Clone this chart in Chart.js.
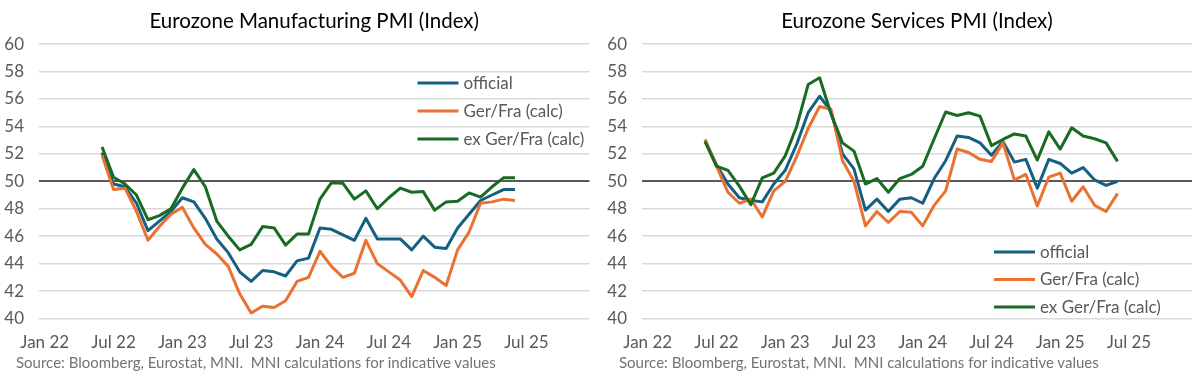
<!DOCTYPE html>
<html>
<head>
<meta charset="utf-8">
<script src="https://cdn.jsdelivr.net/npm/chart.js@4.4.1/dist/chart.umd.min.js"></script>
<style>
  body { margin: 0; background: #fff; }
  #wrap { position: relative; width: 1201px; height: 376px; background: #fff; overflow: hidden; }
  canvas { position: absolute; top: 0; }
  .src { position: absolute; top: 353px; font-family: Lato, sans-serif; font-size: 15px; color: #737373; white-space: pre; }
</style>
</head>
<body>
<div id="wrap">
  <canvas id="manuf" width="600" height="376" style="left:0"></canvas>
  <canvas id="serv" width="601" height="376" style="left:600px"></canvas>
  <div class="src" style="left:16px">Source: Bloomberg, Eurostat, MNI.  MNI calculations for indicative values</div>
  <div class="src" style="left:619px">Source: Bloomberg, Eurostat, MNI.  MNI calculations for indicative values</div>
</div>
<script>
// monthly readings, Jun 2022 - Jun 2025
var months = ['2022-06','2022-07','2022-08','2022-09','2022-10','2022-11','2022-12',
  '2023-01','2023-02','2023-03','2023-04','2023-05','2023-06','2023-07','2023-08','2023-09','2023-10','2023-11','2023-12',
  '2024-01','2024-02','2024-03','2024-04','2024-05','2024-06','2024-07','2024-08','2024-09','2024-10','2024-11','2024-12',
  '2025-01','2025-02','2025-03','2025-04','2025-05','2025-06'];

var tickMonths = ['2022-01','2022-07','2023-01','2023-07','2024-01','2024-07','2025-01','2025-07'];
var tickLabels = ['Jan 22','Jul 22','Jan 23','Jul 23','Jan 24','Jul 24','Jan 25','Jul 25'];

var seriesNames = ['official', 'Ger/Fra (calc)', 'ex Ger/Fra (calc)'];

var manufOfficial = [52.1, 49.8, 49.6, 48.4, 46.4, 47.1, 47.8,
  48.8, 48.5, 47.3, 45.8, 44.8, 43.4, 42.7, 43.5, 43.4, 43.1, 44.2, 44.4,
  46.6, 46.5, 46.1, 45.7, 47.3, 45.8, 45.8, 45.8, 45.0, 46.0, 45.2, 45.1,
  46.6, 47.6, 48.6, 49.0, 49.4, 49.4];
var manufGerFra = [51.9, 49.4, 49.5, 47.8, 45.7, 46.7, 47.6,
  48.1, 46.6, 45.4, 44.7, 43.8, 41.8, 40.4, 40.9, 40.8, 41.3, 42.7, 43.0,
  44.9, 43.8, 43.0, 43.3, 45.7, 44.0, 43.4, 42.8, 41.6, 43.5, 43.0, 42.4,
  45.0, 46.3, 48.4, 48.5, 48.7, 48.6];
var manufExGerFra = [52.5, 50.3, 49.8, 49.0, 47.2, 47.5, 48.0,
  49.5, 50.85, 49.6, 47.1, 46.0, 45.0, 45.4, 46.7, 46.6, 45.35, 46.15, 46.15,
  48.7, 49.9, 49.85, 48.7, 49.3, 48.0, 48.8, 49.5, 49.2, 49.25, 47.9, 48.5,
  48.55, 49.15, 48.85, 49.6, 50.25, 50.25];

var servOfficial = [53.0, 51.2, 49.8, 48.8, 48.6, 48.5, 49.8,
  50.8, 52.7, 55.0, 56.2, 55.1, 52.0, 50.9, 47.9, 48.7, 47.8, 48.7, 48.8,
  48.4, 50.2, 51.5, 53.3, 53.2, 52.8, 51.9, 52.9, 51.4, 51.6, 49.5, 51.6,
  51.3, 50.6, 51.0, 50.1, 49.7, 50.0];
var servGerFra = [53.05, 51.1, 49.2, 48.4, 48.7, 47.4, 49.3,
  50.0, 51.8, 53.85, 55.45, 55.25, 51.5, 50.0, 46.75, 47.8, 47.0, 47.8, 47.75,
  46.75, 48.25, 49.3, 52.35, 52.1, 51.6, 51.45, 52.8, 50.1, 50.5, 48.2, 50.3,
  50.6, 48.55, 49.6, 48.25, 47.8, 49.1];
var servExGerFra = [52.9, 51.1, 50.8, 49.65, 48.3, 50.25, 50.6,
  51.85, 54.0, 57.05, 57.55, 54.9, 52.8, 52.2, 49.8, 50.2, 49.2, 50.2, 50.5,
  51.1, 53.1, 55.05, 54.8, 55.0, 54.75, 52.6, 53.05, 53.45, 53.3, 51.55, 53.6,
  52.35, 53.9, 53.3, 53.1, 52.8, 51.45];

var colors = ['#156082', '#E97132', '#196B24'];

function monthIndex(s) {
  var p = s.split('-');
  return (Number(p[0]) - 2022) * 12 + (Number(p[1]) - 1);
}

function toPoints(values) {
  return values.map(function (v, i) { return { x: monthIndex(months[i]), y: v }; });
}

var tickPos = tickMonths.map(monthIndex);

// legend drawn inside the plot area
var insideLegend = {
  id: 'insideLegend',
  afterDraw: function (chart, args, opts) {
    var ctx = chart.ctx, area = chart.chartArea;
    ctx.save();
    ctx.font = '17px Lato';
    ctx.textBaseline = 'middle';
    ctx.textAlign = 'left';
    chart.data.datasets.forEach(function (ds, i) {
      var y = area.top + opts.top + i * opts.rowGap;
      var x0 = area.right - opts.right;
      ctx.strokeStyle = ds.borderColor;
      ctx.lineWidth = 3;
      ctx.beginPath();
      ctx.moveTo(x0, y);
      ctx.lineTo(x0 + 41, y);
      ctx.stroke();
      ctx.fillStyle = '#595959';
      ctx.fillText(ds.label, x0 + 46, y);
    });
    ctx.restore();
  }
};

function makeChart(id, title, values, cfg) {
  var datasets = values.map(function (vals, i) {
    return {
      label: seriesNames[i],
      data: toPoints(vals),
      borderColor: colors[i],
      backgroundColor: colors[i],
      borderWidth: 3,
      pointRadius: 0,
      borderJoinStyle: 'round',
      tension: 0,
      order: 3 - i
    };
  });

  return new Chart(document.getElementById(id), {
    type: 'line',
    data: { datasets: datasets },
    plugins: [insideLegend],
    options: {
      responsive: false,
      animation: false,
      devicePixelRatio: 1,
      events: [],
      layout: { padding: { left: 0, right: cfg.padRight, top: 0, bottom: 0 } },
      plugins: {
        legend: { display: false },
        tooltip: { enabled: false },
        title: {
          display: true,
          text: title,
          fullSize: false,
          color: '#000',
          font: { family: 'Lato', size: 20.5, weight: 'normal' },
          padding: { top: 9.5, bottom: 10 }
        },
        insideLegend: cfg.legend
      },
      scales: {
        x: {
          type: 'linear',
          min: -0.5,
          max: 47.5,
          afterBuildTicks: function (axis) {
            axis.ticks = tickPos.map(function (v) { return { value: v }; });
          },
          afterFit: function (scale) { scale.height = 57.5; },
          grid: { display: false, drawTicks: false },
          border: { display: false },
          ticks: {
            autoSkip: false,
            maxRotation: 0,
            padding: 14,
            color: '#595959',
            font: { family: 'Lato', size: 17 },
            callback: function (v) { return tickLabels[tickPos.indexOf(v)]; }
          }
        },
        y: {
          min: 40,
          max: 60,
          afterFit: function (scale) { scale.width = cfg.yWidth; },
          border: { display: false },
          grid: {
            drawTicks: false,
            color: function (c) { return c.tick && c.tick.value === 50 ? '#595959' : '#D9D9D9'; },
            lineWidth: function (c) { return c.tick && c.tick.value === 50 ? 2 : 1.5; }
          },
          ticks: {
            stepSize: 2,
            padding: 15,
            color: '#595959',
            font: { family: 'Lato', size: 17 }
          }
        }
      }
    }
  });
}

makeChart('manuf', 'Eurozone Manufacturing PMI (Index)',
  [manufOfficial, manufGerFra, manufExGerFra],
  { padRight: 10.5, yWidth: 39, legend: { top: 39, rowGap: 28, right: 172 } });

makeChart('serv', 'Eurozone Services PMI (Index)',
  [servOfficial, servGerFra, servExGerFra],
  { padRight: 9, yWidth: 42, legend: { top: 208, rowGap: 27.5, right: 198 } });
</script>
</body>
</html>
